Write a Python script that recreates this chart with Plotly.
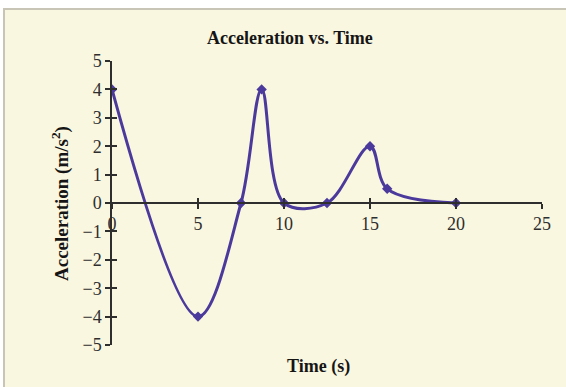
import plotly.graph_objects as go

# Acceleration samples (time in s, acceleration in m/s^2)
time_s = [0, 5, 7.5, 8.7, 10, 12.5, 15, 16, 20]
accel = [4, -4, 0, 4, 0, 0, 2, 0.5, 0]

x_ticks = [0, 5, 10, 15, 20, 25]
y_ticks = [-5, -4, -3, -2, -1, 0, 1, 2, 3, 4, 5]

W, H = 566, 387
ML, MR, MT, MB = 112, 24, 61, 42
PW, PH = W - ML - MR, H - MT - MB

def px_x(p):
    return (p - ML) / PW

def px_y(p):
    return (H - MB - p) / PH

LINE = "#4b3a9c"
CREAM = "#faf7e0"
AXIS = "#2e2e2e"
TEXT = "#151515"
SERIF = "Liberation Serif, Times New Roman, serif"

fig = go.Figure()

fig.add_trace(go.Scatter(
    x=time_s, y=accel,
    mode="lines+markers",
    line=dict(color=LINE, width=3, shape="spline", smoothing=1),
    marker=dict(symbol="diamond", size=8, color=LINE),
    showlegend=False, hoverinfo="x+y",
))
# companion trace so the overlay axes (inner half of the crossing ticks) are drawn
fig.add_trace(go.Scatter(
    x=time_s, y=accel, xaxis="x2", yaxis="y2",
    mode="lines", line=dict(width=0), opacity=0,
    showlegend=False, hoverinfo="skip",
))

tick_font = dict(family=SERIF, size=18, color=AXIS)

common_x = dict(range=[0, 25], tickvals=x_ticks, showgrid=False, zeroline=False,
                anchor="free", position=0.5, fixedrange=True)
common_y = dict(range=[-5, 5], tickvals=y_ticks, showgrid=False, zeroline=False,
                fixedrange=True)

fig.update_layout(
    width=W, height=H,
    margin=dict(l=ML, r=MR, t=MT, b=MB),
    paper_bgcolor="white",
    plot_bgcolor="rgba(0,0,0,0)",
    xaxis=dict(**common_x, showline=True, linecolor=AXIS, linewidth=1.5,
               ticks="outside", ticklen=5, tickwidth=1.5, tickcolor=AXIS,
               tickfont=tick_font),
    xaxis2=dict(**common_x, overlaying="x", showline=False, showticklabels=False,
                ticks="inside", ticklen=5, tickwidth=1.5, tickcolor=AXIS),
    yaxis=dict(**common_y, showline=True, linecolor=AXIS, linewidth=1.5,
               ticks="outside", ticklen=5, tickwidth=1.5, tickcolor=AXIS,
               tickfont=tick_font),
    yaxis2=dict(**common_y, overlaying="y", side="left", showline=False,
                showticklabels=False, ticks="inside", ticklen=5, tickwidth=1.5,
                tickcolor=AXIS),
    shapes=[dict(type="rect", xref="paper", yref="paper", layer="below",
                 x0=px_x(4), x1=px_x(W + 10), y0=px_y(H + 10), y1=px_y(9),
                 fillcolor=CREAM, line=dict(color="#c9c5b6", width=2))],
    annotations=[
        dict(text="<b>Acceleration vs. Time</b>", xref="paper", yref="paper",
             x=px_x(290), y=px_y(38), xanchor="center", yanchor="middle",
             showarrow=False, font=dict(family=SERIF, size=18, color=TEXT)),
        dict(text="<b>Time (s)</b>", xref="paper", yref="paper",
             x=px_x(318), y=px_y(367), xanchor="center", yanchor="middle",
             showarrow=False, font=dict(family=SERIF, size=18, color=TEXT)),
        dict(text="<b>Acceleration (m/s<sup>2</sup>)</b>", xref="paper", yref="paper",
             x=px_x(60), y=px_y(204), xanchor="center", yanchor="middle",
             showarrow=False, textangle=-90,
             font=dict(family=SERIF, size=19, color=TEXT)),
    ],
)

fig.write_html("out.html", config=dict(displayModeBar=False))
